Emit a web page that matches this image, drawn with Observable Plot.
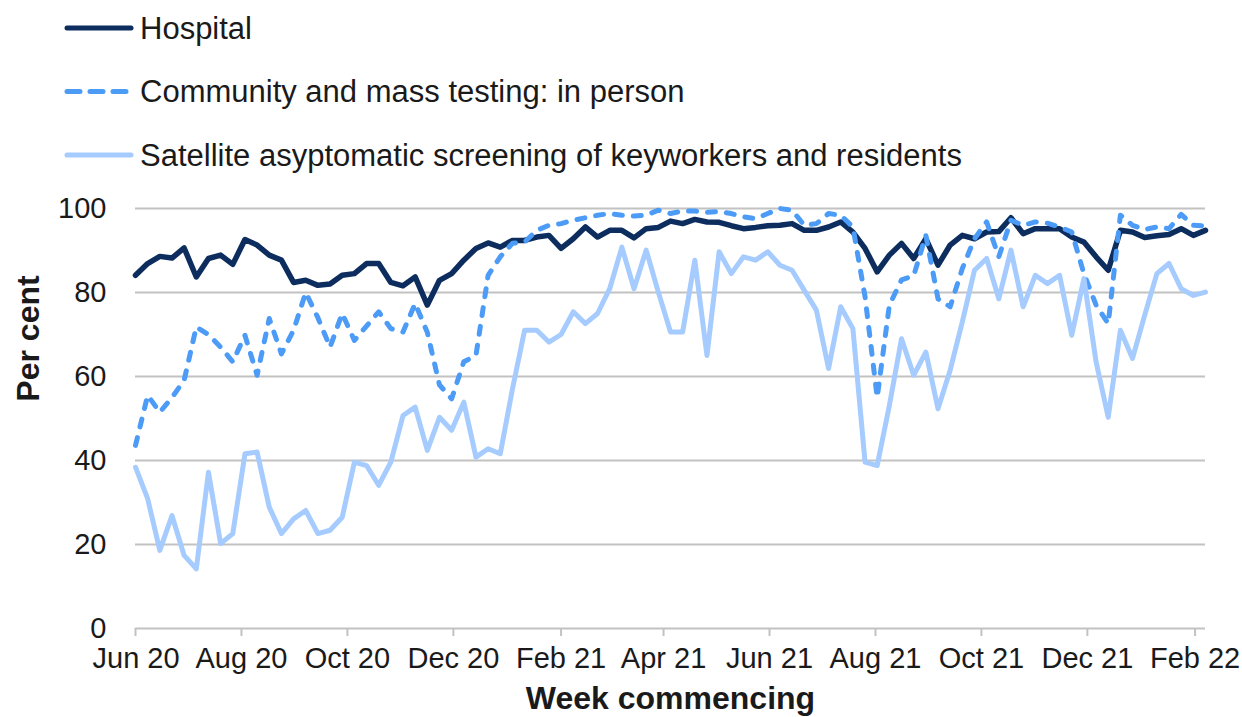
<!DOCTYPE html>
<html><head><meta charset="utf-8">
<script src="https://cdn.jsdelivr.net/npm/d3@7"></script>
<script src="https://cdn.jsdelivr.net/npm/@observablehq/plot@0.6"></script>
<style>
html,body{margin:0;padding:0;background:#fff;}
#chart{width:1242px;height:717px;overflow:hidden;font-family:'Liberation Sans',Arial,sans-serif;}
</style></head><body><div id="chart"></div>
<script>
const startWeek = "2020-06-01";
const seriesNames = ["Hospital", "Community and mass testing: in person", "Satellite asyptomatic screening of keyworkers and residents"];
const hospital = [84.1,86.9,88.6,88.2,90.6,83.7,88.1,88.9,86.7,92.6,91.3,88.9,87.7,82.4,82.9,81.7,82,84.1,
  84.5,86.9,86.9,82.4,81.6,83.7,77,82.9,84.5,87.7,90.5,91.8,90.8,92.4,92.4,93.2,93.6,90.5,
  92.8,95.6,93.2,94.8,94.8,93,95.2,95.5,97,96.4,97.4,96.8,96.7,95.9,95.2,95.5,95.9,96,
  96.4,94.8,94.8,95.6,96.8,94.4,90.5,84.9,88.9,91.7,88.1,92.8,86.5,91.3,93.6,92.8,94.4,94.5,
  97.8,94,95.2,95.2,95.2,93.2,92,88.5,85.3,94.8,94.4,93.1,93.5,93.8,95.2,93.6,94.8];
const community = [43.6,55.5,51.5,55,59.1,71.8,70,67,63.5,69.8,60.3,73.8,65.4,71,80,74,67,75,
  68.6,72,75.4,71.4,70.6,77.4,70.5,58,54.7,63.5,65,84.1,88.5,91.7,92,94.8,96,96.4,
  97.2,97.8,98.4,98.8,98.4,98.2,98.4,99.6,98.8,99.4,99.4,99.1,99.3,98.8,98,97.6,98.8,100,
  99.6,96,96.4,98.8,98.4,95.6,79,55,77,83,84,93.6,78.5,76.6,85.7,92.8,96.8,88.5,
  97.2,96,96.8,96.5,95.6,94.4,84.5,77,72.6,98.4,96,95,95.6,95.2,98.6,96,95.8];
const satellite = [38.4,30.9,18.6,26.9,17.4,14.2,37.2,20.2,22.6,41.6,42,28.9,22.6,26.1,28.1,22.6,23.4,26.5,
  39.6,38.8,34.1,39.6,50.7,52.7,42.4,50.3,47.2,53.9,40.8,42.8,41.6,57,71,71,68.2,70,
  75.4,72.6,75,80.9,90.8,80.9,90.1,80.1,70.6,70.6,87.7,65,89.7,84.5,88.5,87.7,89.7,86.5,
  85.3,80.5,75.8,61.9,76.6,71.4,39.6,38.8,53.1,69,60.3,65.8,52.3,61.5,73,85.3,88.1,78.5,
  90.1,76.6,84.1,82.1,84.1,69.8,83.3,63.5,50.3,71,64.3,74.6,84.5,86.9,80.9,79.3,80.1];
const yTicks = [0, 20, 40, 60, 80, 100];
const tickDates = ["2020-06-01","2020-08-01","2020-10-01","2020-12-01","2021-02-01","2021-04-01","2021-06-01","2021-08-01","2021-10-01","2021-12-01","2022-02-01"];
const tickLabels = ["Jun 20","Aug 20","Oct 20","Dec 20","Feb 21","Apr 21","Jun 21","Aug 21","Oct 21","Dec 21","Feb 22"];
const colors = ["#0c2d5e", "#4b9bf7", "#a5cbff"];
const widths = [5.5, 5, 5];
const dashes = [null, "8,11", null];
const legendDashes = [null, "13,10", null];

const start = new Date(startWeek);
const weeks = hospital.map((_, i) => d3.utcDay.offset(start, 7 * i));
const seriesValues = [hospital, community, satellite];
const rows = seriesValues.map((vals, s) => vals.map((v, i) => ({series: seriesNames[s], date: weeks[i], value: v})));
const tickObjs = tickDates.map(d => new Date(d));
const labelOf = new Map(tickObjs.map((d, i) => [+d, tickLabels[i]]));
const fmt = d => labelOf.get(+d);

const font = "'Liberation Sans', Arial, sans-serif";
const chart = document.getElementById("chart");

// Legend
const legend = d3.create("svg").attr("width", 1242).attr("height", 190).style("display", "block");
seriesNames.forEach((name, i) => {
  const g = legend.append("g").attr("transform", `translate(0,${28 + i * 63.5})`);
  g.append("line").attr("x1", 67).attr("x2", 131)
    .attr("stroke", colors[i]).attr("stroke-width", 5).attr("stroke-linecap", "round")
    .attr("stroke-dasharray", legendDashes[i]);
  g.append("text").attr("x", 140).attr("dy", "0.35em")
    .attr("font-family", font).attr("font-size", 31).attr("fill", "#1a1a1a").text(name);
});
chart.appendChild(legend.node());

const plot = Plot.plot({
  width: 1242, height: 527,
  marginLeft: 135, marginRight: 37, marginTop: 18, marginBottom: 89,
  style: {fontFamily: font, fontSize: "29px", color: "#1a1a1a", background: "#fff", overflow: "visible"},
  x: {type: "utc", domain: [weeks[0], weeks[weeks.length - 1]]},
  y: {domain: [0, 100]},
  marks: [
    Plot.gridY(yTicks, {stroke: "#c2c2c2", strokeOpacity: 1, strokeWidth: 2}),
    Plot.axisY(yTicks, {tickSize: 0, tickPadding: 29, fontSize: 29, label: null}),
    // tick marks for all month ticks (no text)
    Plot.axisX(tickObjs, {tickSize: 8, stroke: "#c2c2c2", strokeWidth: 2, fill: "none", label: null}),
    // labels, centred on ticks except the first, which is shifted left as in the original
    Plot.axisX(tickObjs.slice(1), {tickSize: 0, tickPadding: 19, fill: "#1a1a1a", fontSize: 29, tickFormat: fmt, label: null}),
    Plot.axisX(tickObjs.slice(0, 1), {tickSize: 0, tickPadding: 19, fill: "#1a1a1a", fontSize: 29, tickFormat: fmt, textAnchor: "start", dx: -43, label: null}),
    ...rows.map((r, s) => Plot.line(r, {x: "date", y: "value", stroke: colors[s], strokeWidth: widths[s], strokeDasharray: dashes[s], strokeLinejoin: "round", strokeLinecap: "round"})),
    Plot.text(["Per cent"], {frameAnchor: "left", textAnchor: "middle", rotate: -90, dx: -107, dy: -80, fontWeight: "bold", fontSize: 32, fill: "#1a1a1a"}),
    Plot.text(["Week commencing"], {frameAnchor: "bottom", dy: 80, fontWeight: "bold", fontSize: 32, fill: "#1a1a1a"})
  ]
});
plot.style.display = "block";
chart.appendChild(plot);
</script>
</body></html>
